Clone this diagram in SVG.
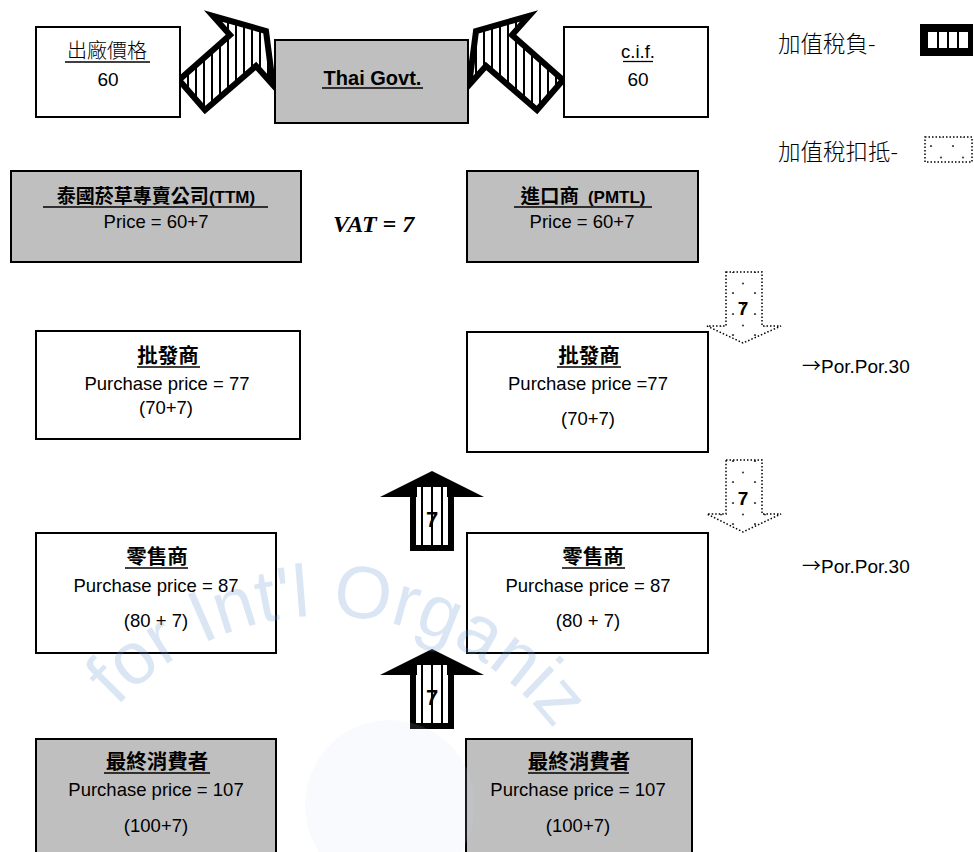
<svg xmlns="http://www.w3.org/2000/svg" width="974" height="852" viewBox="0 0 974 852">
<style>
.box{stroke:#000;stroke-width:2}
.w{fill:#fff}
.g{fill:#bfbfbf}
.t{font-family:"Liberation Sans","Noto Sans CJK TC",sans-serif;font-size:18.5px;fill:#000;text-anchor:middle}
.cj{font-family:"Noto Sans CJK TC","Liberation Sans",sans-serif;font-size:20.5px;font-weight:700;fill:#000;text-anchor:middle}
.lt{font-family:"Noto Sans CJK TC","Liberation Sans",sans-serif;font-weight:300;fill:#000}
.ul{stroke:#000;stroke-width:1.3}
.num{font-family:"Liberation Sans",sans-serif;font-size:19px;font-weight:700;fill:#000;text-anchor:middle}
.narrow{font-family:"Liberation Sans Narrow","Liberation Sans",sans-serif;font-size:22px;font-weight:700;fill:#000;text-anchor:middle}
.por{font-family:"Liberation Sans",sans-serif;font-size:19px;fill:#000}
.arr{font-family:"Noto Sans CJK TC",sans-serif;font-size:19px}
.dotted{stroke:#000;stroke-width:1.5;stroke-dasharray:1.5 2;fill:url(#dots)}
.hatch{fill:url(#st8);stroke:#000;stroke-width:6;stroke-linejoin:miter}
</style>
<defs>
<pattern id="st8" patternUnits="userSpaceOnUse" width="8" height="8">
<rect width="8" height="8" fill="#fff"/>
<rect x="3" width="2" height="8" fill="#000"/>
</pattern>
<pattern id="st10" patternUnits="userSpaceOnUse" width="10" height="10" x="-5">
<rect width="10" height="10" fill="#fff"/>
<rect x="4" width="2" height="10" fill="#000"/>
</pattern>
<pattern id="dots" patternUnits="userSpaceOnUse" width="22" height="21">
<rect width="22" height="21" fill="#fff"/>
<circle cx="7" cy="20" r="1.1" fill="#444"/>
<circle cx="7" cy="-1" r="1.1" fill="#444"/>
<circle cx="17" cy="10.5" r="1.1" fill="#444"/>
</pattern>
<g id="uparrow">
<polygon points="-52,26 0,0 52,26" fill="#000"/>
<rect x="-19" y="23" width="38" height="54" fill="url(#st10)" stroke="#000" stroke-width="6"/>
<rect x="-15" y="16" width="30" height="12" fill="url(#st10)"/>
</g>
<path id="wmarc" d="M 116.6 706.8 A 286 286 0 0 1 607.5 852.2" fill="none"/>
</defs>

<g id="connectors">
<path class="hatch" d="M179 80 L230 35 L213 16 L266 31 L273 85 L256 66 L205 110 Z"/>
<path class="hatch" d="M563 80 L512 35 L529 16 L476 31 L469 85 L486 66 L537 110 Z"/>
<g id="arrow-up-1"><use href="#uparrow" transform="translate(432,471)"/><text class="narrow" x="432" y="527">7</text></g>
<g id="arrow-up-2"><use href="#uparrow" transform="translate(432,649)"/><text class="narrow" x="432" y="705">7</text></g>
<g id="arrow-down-1"><path class="dotted" d="M726 272 H762 V326 H781 L743 343 L707 326 H726 Z"/><text class="num" x="743" y="315">7</text></g>
<g id="arrow-down-2"><path class="dotted" d="M726 460 H762 V514 H781 L743 532 L707 514 H726 Z"/><text class="num" x="743" y="505">7</text></g>
</g>

<g id="factory">
<rect class="box w" x="36" y="27" width="144" height="90"/>
<text class="lt" x="107" y="58" font-size="20" text-anchor="middle">出廠價格</text>
<line class="ul" x1="65" y1="62" x2="150" y2="62"/>
<text class="t" x="108" y="86" style="font-size:19px">60</text>
</g>

<g id="thai-govt">
<rect class="box g" x="275" y="40" width="193" height="83"/>
<text class="t" x="372.5" y="85" style="font-size:20px;font-weight:700">Thai Govt.</text>
<line class="ul" x1="322" y1="88" x2="423" y2="88" stroke-width="1.8"/>
</g>

<g id="cif">
<rect class="box w" x="564" y="27" width="144" height="90"/>
<text class="t" x="638" y="58">c.i.f.</text>
<line class="ul" x1="623" y1="61.5" x2="653" y2="61.5"/>
<text class="t" x="638" y="86" style="font-size:19px">60</text>
</g>

<g id="legend">
<text class="lt" x="778" y="52" font-size="22.5">加值稅負-</text>
<rect x="920" y="24" width="53" height="32" fill="#000"/>
<rect x="928" y="32" width="40" height="16" fill="#fff"/>
<rect x="937" y="32" width="2" height="16" fill="#000"/>
<rect x="947" y="32" width="2" height="16" fill="#000"/>
<rect x="957" y="32" width="2" height="16" fill="#000"/>
<text class="lt" x="778" y="160" font-size="22.5">加值稅扣抵-</text>
<rect class="dotted" x="925" y="137" width="47" height="25"/>
</g>

<g id="ttm">
<rect class="box g" x="11" y="171" width="290" height="91"/>
<text class="cj" x="156" y="203" style="font-size:19px">泰國菸草專賣公司<tspan font-family="Liberation Sans,sans-serif" font-size="17">(TTM)</tspan></text>
<line class="ul" x1="43" y1="207" x2="268" y2="207"/>
<text class="t" x="156" y="228">Price = 60+7</text>
</g>

<text id="vat" x="333" y="232" font-family="Liberation Serif,serif" font-size="24" font-weight="700" font-style="italic" fill="#000">VAT = 7</text>

<g id="pmtl">
<rect class="box g" x="467" y="171" width="231" height="91"/>
<text class="cj" x="583" y="203" xml:space="preserve" style="font-size:19.5px">進口商  <tspan font-family="Liberation Sans,sans-serif" font-size="17">(PMTL)</tspan></text>
<line class="ul" x1="514" y1="207" x2="652" y2="207"/>
<text class="t" x="582" y="228">Price = 60+7</text>
</g>

<g id="wholesale-left">
<rect class="box w" x="36" y="331" width="264" height="108"/>
<text class="cj" x="168" y="363">批發商</text>
<line class="ul" x1="137" y1="367" x2="200" y2="367"/>
<text class="t" x="167" y="390">Purchase price = 77</text>
<text class="t" x="166" y="414">(70+7)</text>
</g>

<g id="wholesale-right">
<rect class="box w" x="467" y="332" width="241" height="120"/>
<text class="cj" x="589" y="363">批發商</text>
<line class="ul" x1="557" y1="367" x2="621" y2="367"/>
<text class="t" x="588" y="390">Purchase price =77</text>
<text class="t" x="588" y="425">(70+7)</text>
</g>

<text class="por" x="802" y="373"><tspan class="arr">→</tspan>Por.Por.30</text>

<g id="retail-left">
<rect class="box w" x="36" y="533" width="240" height="120"/>
<text class="cj" x="157" y="564">零售商</text>
<line class="ul" x1="125" y1="568" x2="188" y2="568"/>
<text class="t" x="156" y="592">Purchase price = 87</text>
<text class="t" x="156" y="627">(80 + 7)</text>
</g>

<g id="retail-right">
<rect class="box w" x="467" y="533" width="241" height="120"/>
<text class="cj" x="593" y="564">零售商</text>
<line class="ul" x1="562" y1="568" x2="625" y2="568"/>
<text class="t" x="588" y="592">Purchase price = 87</text>
<text class="t" x="588" y="627">(80 + 7)</text>
</g>

<text class="por" x="802" y="573"><tspan class="arr">→</tspan>Por.Por.30</text>

<g id="consumer-left">
<rect class="box g" x="36" y="739" width="240" height="125"/>
<text class="cj" x="157" y="769">最終消費者</text>
<line class="ul" x1="104" y1="773" x2="210" y2="773"/>
<text class="t" x="156" y="796">Purchase price = 107</text>
<text class="t" x="156" y="832">(100+7)</text>
</g>

<g id="consumer-right">
<rect class="box g" x="466" y="739" width="226" height="125"/>
<text class="cj" x="579" y="769">最終消費者</text>
<line class="ul" x1="528" y1="773" x2="629" y2="773"/>
<text class="t" x="578" y="796">Purchase price = 107</text>
<text class="t" x="578" y="832">(100+7)</text>
</g>

<g id="watermark" opacity="0.25">
<circle cx="390" cy="805" r="85" fill="#c9dbf0" opacity="0.5"/>
<text font-family="Liberation Sans,sans-serif" font-size="74" fill="#6f9ad2"><textPath href="#wmarc">for Int'l Organiz</textPath></text>
</g>
</svg>
